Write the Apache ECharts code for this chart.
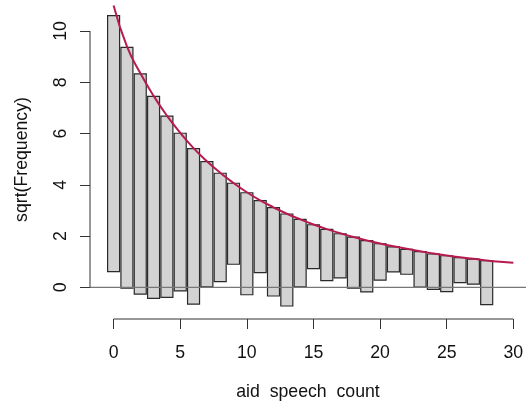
<!DOCTYPE html>
<html><head><meta charset="utf-8">
<script src="https://cdn.jsdelivr.net/npm/echarts@6/dist/echarts.min.js"></script>
<style>html,body{margin:0;padding:0;background:#fff}#c{width:526px;height:401px}</style>
</head><body><div id="c"></div><script>
// Data (hanging rootogram, sqrt scale)
const counts = [0,1,2,3,4,5,6,7,8,9,10,11,12,13,14,15,16,17,18,19,20,21,22,23,24,25,26,27,28];
const barTop = [10.60,9.36,8.33,7.45,6.68,6.01,5.41,4.90,4.45,4.06,3.69,3.38,3.11,2.86,2.65,2.44,2.26,2.09,1.96,1.82,1.70,1.58,1.48,1.39,1.30,1.23,1.16,1.10,1.04];
const barBottom = [0.61,-0.03,-0.27,-0.43,-0.39,-0.14,-0.66,0.02,0.22,0.90,-0.29,0.57,-0.34,-0.73,0.02,0.73,0.26,0.37,-0.03,-0.18,0.28,0.60,0.51,0.01,-0.08,-0.17,0.18,0.12,-0.68];
const curveX = [0,1,2,3,4,5,6,7,8,9,10,11,12,13,14,15,16,17,18,19,20,21,22,23,24,25,26,27,28,29,30];
const curveY = [11.0,9.40,8.36,7.47,6.70,6.03,5.43,4.92,4.47,4.07,3.71,3.39,3.12,2.87,2.65,2.45,2.27,2.11,1.96,1.83,1.71,1.60,1.50,1.41,1.32,1.24,1.17,1.11,1.05,1.00,0.96];
const xTicks = [0,5,10,15,20,25,30];
const yTicks = [0,2,4,6,8,10];
const xTitle = 'aid  speech  count';
const yTitle = 'sqrt(Frequency)';

const X_MIN = -1.771, X_MAX = 30.95;
const Y_MIN = -1.237, Y_MAX = 11.21;
const FONT = 'Liberation Sans, Arial, sans-serif';
const FS = 17.7;

const barData = counts.map((k, i) => [k, barTop[i], barBottom[i]]);
const curveData = curveX.map((x, i) => [x, curveY[i]]);

const chart = echarts.init(document.getElementById('c'), null, {renderer: 'canvas'});
chart.setOption({
  animation: false,
  backgroundColor: '#fff',
  grid: {left: 90, top: 0, right: 0, bottom: 82, containLabel: false, outerBoundsMode: 'none'},
  xAxis: {
    type: 'value', min: X_MIN, max: X_MAX,
    axisLine: {show: false, onZero: false}, splitLine: {show: false},
    axisTick: {show: true, customValues: xTicks, length: 10, lineStyle: {color: '#333', width: 1}},
    axisLabel: {customValues: xTicks, margin: 25, fontSize: FS, color: '#111', fontFamily: FONT},
    name: xTitle, nameLocation: 'middle', nameGap: 64,
    nameTextStyle: {fontSize: FS, color: '#111', fontFamily: FONT}
  },
  yAxis: {
    type: 'value', min: Y_MIN, max: Y_MAX,
    axisLine: {show: false, onZero: false}, splitLine: {show: false},
    axisTick: {show: true, customValues: yTicks, length: 10, lineStyle: {color: '#333', width: 1}},
    axisLabel: {customValues: yTicks, rotate: 90, margin: 20, fontSize: FS, color: '#111', fontFamily: FONT},
    name: yTitle, nameLocation: 'middle', nameGap: 59, nameRotate: 90,
    nameTextStyle: {fontSize: FS, color: '#111', fontFamily: FONT}
  },
  series: [
    {
      type: 'custom', z: 2,
      data: barData,
      renderItem: function (params, api) {
        const k = api.value(0), top = api.value(1), bot = api.value(2);
        const p1 = api.coord([k - 0.45, top]);
        const p2 = api.coord([k + 0.45, bot]);
        return {type: 'rect',
          shape: {x: p1[0], y: p1[1], width: p2[0] - p1[0], height: p2[1] - p1[1]},
          style: {fill: '#D3D3D3', stroke: '#2a2a2a', lineWidth: 1.2}};
      }
    },
    {
      type: 'line', z: 3, symbol: 'none', silent: true,
      data: [[X_MIN, 0], [X_MAX, 0]],
      lineStyle: {color: '#777', width: 1.3}
    },
    {
      type: 'line', z: 4, symbol: 'none', smooth: true, silent: true,
      data: curveData,
      lineStyle: {color: '#B61A51', width: 2}
    },
    {
      type: 'line', z: 5, symbol: 'none', silent: true, clip: false,
      data: [[xTicks[0], Y_MIN], [xTicks[xTicks.length - 1], Y_MIN]],
      lineStyle: {color: '#333', width: 1}
    },
    {
      type: 'line', z: 5, symbol: 'none', silent: true, clip: false,
      data: [[X_MIN, yTicks[0]], [X_MIN, yTicks[yTicks.length - 1]]],
      lineStyle: {color: '#333', width: 1}
    }
  ]
});
</script></body></html>
